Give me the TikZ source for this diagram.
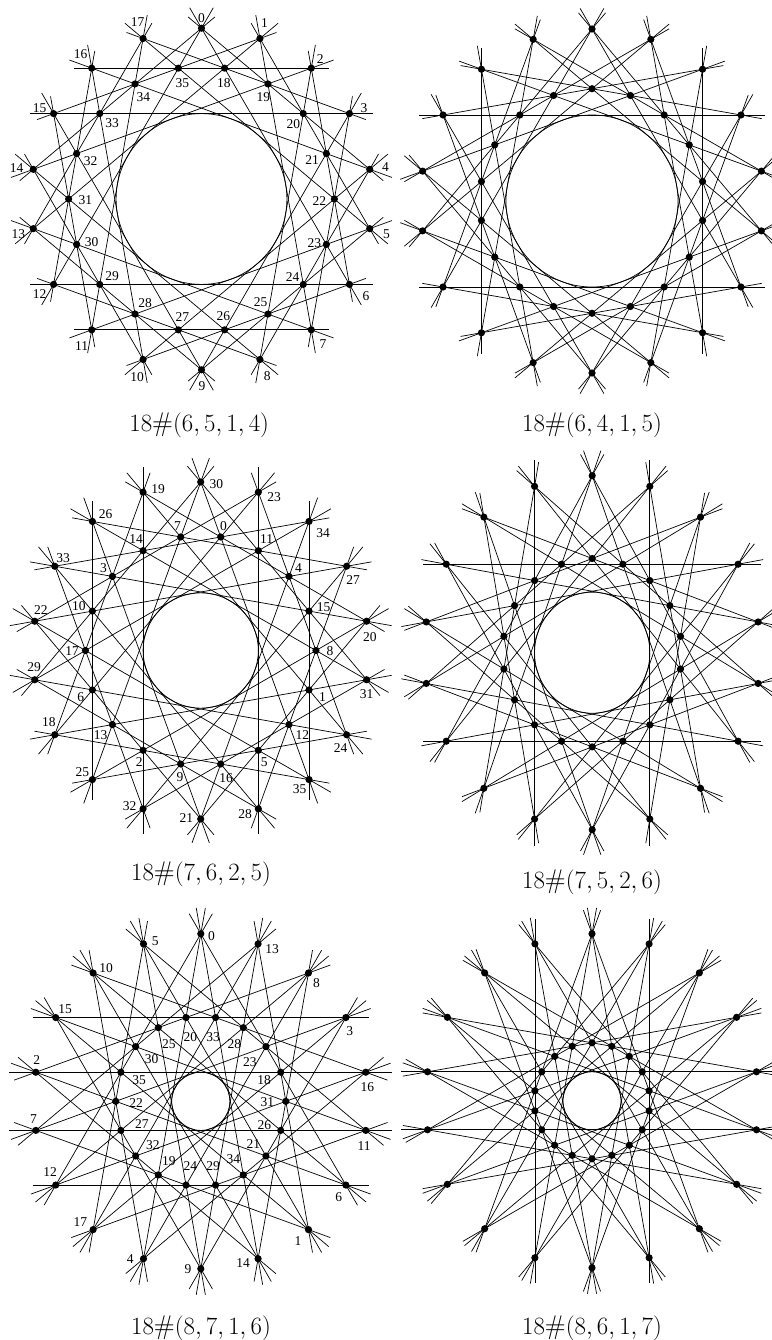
\documentclass[tikz,border=0pt]{standalone}
\usepackage{fontspec}
\newfontfamily\labfont{Liberation Serif}
\usetikzlibrary{calc}
\tikzset{
  cfgline/.style={line width=0.7pt},
  lab/.style={font=\labfont\fontsize{13.5}{13.5}\selectfont, inner sep=0pt},
  captext/.style={font=\fontsize{27}{30}\selectfont, anchor=base, inner sep=0pt},
}
% #1 name, #2 cx, #3 cy, #4 Rx, #5 Ry, #6 s1, #7 t1, #8 t2
\newcommand\drawconfig[8]{%
  \pgfmathsetmacro\rr{cos(10*#6)/cos(10*#7)}%
  \pgfmathsetmacro\ioff{mod(#6+#7,2)*10}%
  \pgfmathsetmacro\cr{cos(10*#6)}%
  \foreach \k in {0,...,17}{%
    \coordinate (#1o\k) at ({#2+#4*sin(20*\k)},{#3-#5*cos(20*\k)});
    \coordinate (#1i\k) at ({#2+\rr*#4*sin(20*\k+\ioff)},{#3-\rr*#5*cos(20*\k+\ioff)});
  }
  \draw[cfgline] (#2,#3) ellipse [x radius={\cr*#4}, y radius={\cr*#5}];
  \foreach \k in {0,...,17}{%
    \pgfmathtruncatemacro\ja{mod(\k+#6,18)}%
    \pgfmathtruncatemacro\jb{mod(\k+#8,18)}%
    \draw[cfgline] ($(#1o\k)!-0.08!(#1o\ja)$) -- ($(#1o\ja)!-0.08!(#1o\k)$);
    \draw[cfgline] ($(#1o\k)!-0.08!(#1o\jb)$) -- ($(#1o\jb)!-0.08!(#1o\k)$);
  }
  \foreach \k in {0,...,17}{%
    \fill (#1o\k) circle [radius=3.6];
    \fill (#1i\k) circle [radius=3.6];
  }
}
\newcommand\putlabels[3]{%
  \foreach \k/\t/\dx/\dy in {#3}{%
    \node[lab] (#1#2l\k) at ($(#1#2\k)+(\dx,\dy)$) {\t};
  }
}
\begin{document}
\begin{tikzpicture}[x=1pt,y=-1pt]
\useasboundingbox (0,0) rectangle (771,1340);

% ---------- top left: 18#(6,5,1,4)
\drawconfig{TL}{201.5}{199}{170.8}{170.8}{6}{5}{4}
\putlabels{TL}{o}{0/0/0/-10, 1/1/4.7/-15, 2/2/9/-9.3, 3/3/14.7/-5.7, 4/4/15.7/-2.7, 5/5/16.7/5.7, 6/6/16.7/12, 7/7/11.7/14, 8/8/7.4/16.7, 9/9/0.6/16, 10/10/-6/18, 11/11/-10/16, 12/12/-14/9.3, 13/13/-15/5.7, 14/14/-16.6/-1.7, 15/15/-14/-5.7, 16/16/-11/-14, 17/17/-5.4/-16.3}
\putlabels{TL}{i}{0/18/-0.7/15, 1/19/-4.6/13, 2/20/-10/10, 3/21/-14.3/6.7, 4/22/-15/1.7, 5/23/-12/-1.6, 6/24/-10.6/-7.6, 7/25/-7.3/-11.6, 8/26/-1.3/-13.3, 9/27/4/-13.3, 10/28/10/-10.6, 11/29/12.4/-8, 12/30/15/-2.6, 13/31/16.7/1, 14/32/14/7.4, 15/33/12.4/10, 16/34/8.3/13.6, 17/35/4/15}
\node[captext] (capTL) at (199.2,431.7) {$18\#(6,5,1,4)$};

% ---------- top right: 18#(6,4,1,5)
\drawconfig{TR}{592}{201}{172}{172}{6}{4}{5}
\node[captext] (capTR) at (592,431.7) {$18\#(6,4,1,5)$};

% ---------- middle left: 18#(7,6,2,5)
\drawconfig{ML}{200.7}{650.5}{168.5}{168.5}{7}{6}{5}
\putlabels{ML}{o}{0/30/15.7/2.3, 1/23/15.7/5.4, 2/34/14/11.6, 3/27/6.6/13.4, 4/20/3.3/16, 5/31/0/14.7, 6/24/-6/13.3, 7/35/-9.3/10, 8/28/-13.3/5, 9/21/-14.3/-1, 10/32/-13.4/-2.3, 11/25/-10/-7.3, 12/18/-6/-12.3, 13/29/-0.7/-12.6, 14/22/6/-11.7, 15/33/8.4/-8.4, 16/26/13.3/-7.7, 17/19/15/-3}
\putlabels{ML}{i}{0/0/2.7/-11.3, 1/11/8.4/-11.4, 2/4/9.4/-8.7, 3/15/14.7/-3.7, 4/8/14/1, 5/1/13.4/7.4, 6/12/13.4/10.7, 7/5/6/12, 8/16/5.4/14.3, 9/9/-0.7/12.7, 10/2/-3.7/12, 11/13/-11.7/10.7, 12/6/-11.7/7.4, 13/17/-13.3/1, 14/10/-13.4/-5, 15/3/-9/-8.7, 16/14/-7/-11.4, 17/7/-3.3/-11.3}
\node[captext] (capML) at (201,880) {$18\#(7,6,2,5)$};

% ---------- middle right: 18#(7,5,2,6)
\drawconfig{MR}{592.2}{652.7}{168.5}{177}{7}{5}{6}
\node[captext] (capMR) at (592,888) {$18\#(7,5,2,6)$};

% ---------- bottom left: 18#(8,7,1,6)
\drawconfig{BL}{200.8}{1101.3}{167.5}{167.5}{8}{7}{6}
\putlabels{BL}{o}{0/0/10.7/2, 1/13/14/5, 2/8/8/9.6, 3/3/4/13.7, 4/16/1.6/15, 5/11/-1.7/16, 6/6/-7/12.3, 7/1/-10.4/11, 8/14/-15/4.4, 9/9/-12.7/0.7, 10/4/-13.3/0, 11/17/-12.7/-7.3, 12/12/-5.7/-13.3, 13/7/-2.4/-11.7, 14/2/1/-11.7, 15/15/9.3/-8, 16/10/13/-5, 17/5/11.7/-2.3}
\putlabels{BL}{i}{0/33/-2.4/19.4, 1/28/-9/16.7, 2/23/-16/15, 3/18/-16.7/7.6, 4/31/-18.4/0.7, 5/26/-16.4/-5, 6/21/-12.7/-11.7, 7/34/-10/-16, 8/29/-2.4/-19, 9/24/4.3/-19, 10/19/10.6/-13.6, 11/32/17.3/-10.7, 12/27/21/-6.7, 13/22/20.3/1.3, 14/35/18.3/7.6, 15/30/16/12.3, 16/25/10.6/16, 17/20/4.3/19.4}
\node[captext] (capBL) at (201,1334) {$18\#(8,7,1,6)$};

% ---------- bottom right: 18#(8,6,1,7)
\drawconfig{BR}{592}{1100.8}{167}{167}{8}{6}{7}
\node[captext] (capBR) at (592,1334) {$18\#(8,6,1,7)$};
\end{tikzpicture}
\end{document}
